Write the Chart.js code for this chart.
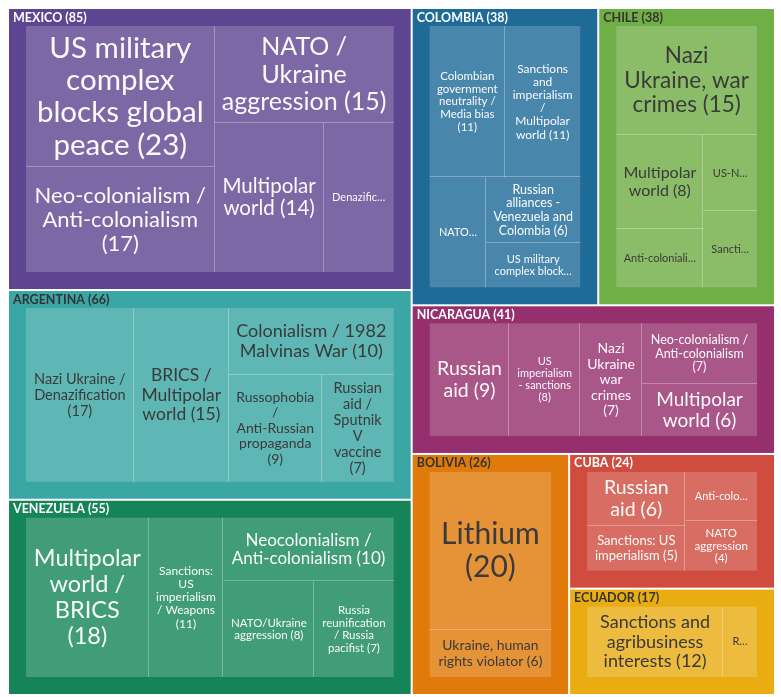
<!DOCTYPE html>
<html>
<head>
<meta charset="utf-8">
<script src="https://cdn.jsdelivr.net/npm/chart.js@4.4.0/dist/chart.umd.min.js"></script>
<style>
  html, body { margin: 0; padding: 0; background: #fff; }
  #wrap { width: 781px; height: 697px; }
</style>
</head>
<body>
<div id="wrap"><canvas id="chart"></canvas></div>
<script>
// countries (header counts) in layout order
const countries = ['MEXICO', 'ARGENTINA', 'VENEZUELA', 'COLOMBIA', 'CHILE', 'NICARAGUA', 'BOLIVIA', 'CUBA', 'ECUADOR'];
const countryCounts = [85, 66, 55, 38, 38, 41, 26, 24, 17];

// topics per country and their sizes
const mexicoTopics = ['US military complex blocks global peace', 'Neo-colonialism / Anti-colonialism', 'NATO / Ukraine aggression', 'Multipolar world', 'Denazification'];
const mexicoValues = [23, 17, 15, 14, 9];
const argentinaTopics = ['Nazi Ukraine / Denazification', 'BRICS / Multipolar world', 'Colonialism / 1982 Malvinas War', 'Russophobia / Anti-Russian propaganda', 'Russian aid / Sputnik V vaccine'];
const argentinaValues = [17, 15, 10, 9, 7];
const venezuelaTopics = ['Multipolar world / BRICS', 'Sanctions: US imperialism / Weapons', 'Neocolonialism / Anti-colonialism', 'NATO/Ukraine aggression', 'Russia reunification / Russia pacifist'];
const venezuelaValues = [18, 11, 10, 8, 7];
const colombiaTopics = ['Colombian government neutrality / Media bias', 'Sanctions and imperialism / Multipolar world', 'NATO aggression', 'Russian alliances - Venezuela and Colombia', 'US military complex blocks global peace'];
const colombiaValues = [11, 11, 6, 6, 4];
const chileTopics = ['Nazi Ukraine, war crimes', 'Multipolar world', 'Anti-colonialism', 'US-NATO aggression', 'Sanctions'];
const chileValues = [15, 8, 5, 4, 4];
const nicaraguaTopics = ['Russian aid', 'US imperialism - sanctions', 'Nazi Ukraine war crimes', 'Neo-colonialism / Anti-colonialism', 'Multipolar world'];
const nicaraguaValues = [9, 8, 7, 7, 6];
const boliviaTopics = ['Lithium', 'Ukraine, human rights violator'];
const boliviaValues = [20, 6];
const cubaTopics = ['Russian aid', 'Sanctions: US imperialism', 'Anti-colonialism', 'NATO aggression'];
const cubaValues = [6, 5, 4, 4];
const ecuadorTopics = ['Sanctions and agribusiness interests', 'Russian aid'];
const ecuadorValues = [12, 3];

const topics = [mexicoTopics, argentinaTopics, venezuelaTopics, colombiaTopics, chileTopics, nicaraguaTopics, boliviaTopics, cubaTopics, ecuadorTopics];
const values = [mexicoValues, argentinaValues, venezuelaValues, colombiaValues, chileValues, nicaraguaValues, boliviaValues, cubaValues, ecuadorValues];

const countryColors = ['#5e4591', '#3ba7a4', '#158559', '#1f6b98', '#70ae46', '#952f6e', '#e07b0b', '#cf4c3f', '#e9ac11'];
const darkText = [false, true, false, false, true, false, true, false, true];

const PAD = 18;
const FONT = 'Lato, "Noto Sans", sans-serif';
const MAX_SIZE = 30, MIN_SIZE = 11, LINE_H = 1.1;

// binary treemap split (same idea as d3.treemapBinary)
function binaryLayout(vals, x0, y0, x1, y1, aspect) {
  const n = vals.length, sums = [0];
  for (let i = 0; i < n; i++) sums.push(sums[i] + vals[i]);
  const out = new Array(n);
  function part(i, j, value, x0, y0, x1, y1) {
    if (i >= j - 1) { out[i] = { x0, y0, x1, y1 }; return; }
    const offset = sums[i], target = value / 2 + offset;
    let k = i + 1, hi = j - 1;
    while (k < hi) {
      const mid = (k + hi) >>> 1;
      if (sums[mid] < target) k = mid + 1; else hi = mid;
    }
    if (target - sums[k - 1] < sums[k] - target && i + 1 < k) --k;
    const left = sums[k] - offset, right = value - left;
    if ((x1 - x0) * aspect > (y1 - y0)) {
      const xk = (x0 * right + x1 * left) / value;
      part(i, k, left, x0, y0, xk, y1);
      part(k, j, right, xk, y0, x1, y1);
    } else {
      const yk = (y0 * right + y1 * left) / value;
      part(i, k, left, x0, y0, x1, yk);
      part(k, j, right, x0, yk, x1, y1);
    }
  }
  part(0, n, sums[n], x0, y0, x1, y1);
  return out;
}

function wrapWords(ctx, words, maxW) {
  const lines = [];
  let cur = '';
  for (const w of words) {
    if (ctx.measureText(w).width > maxW) return null;
    const t = cur ? cur + ' ' + w : w;
    if (ctx.measureText(t).width <= maxW) cur = t;
    else { lines.push(cur); cur = w; }
  }
  if (cur) lines.push(cur);
  return lines;
}

function trimToFit(ctx, s, maxW) {
  while (s.length > 1 && ctx.measureText(s + '…').width > maxW) s = s.slice(0, -1);
  return s.trimEnd() + '…';
}

// largest font that fits the cell, otherwise a truncated label at the min size
function fitLabel(ctx, text, w, h) {
  const words = text.split(' ');
  for (let size = MAX_SIZE; size >= MIN_SIZE; size -= 0.5) {
    ctx.font = `${size}px ${FONT}`;
    const lines = wrapWords(ctx, words, w);
    if (lines && lines.length * size * LINE_H <= h) return { size, lines };
  }
  const size = MIN_SIZE;
  ctx.font = `${size}px ${FONT}`;
  const maxLines = Math.max(1, Math.floor(h / (size * LINE_H)));
  const lines = [];
  let cur = '';
  for (const word of words) {
    if (ctx.measureText(word).width > w) {
      if (cur) lines.push(cur);
      if (lines.length) lines[lines.length - 1] = trimToFit(ctx, lines[lines.length - 1], w);
      else lines.push(trimToFit(ctx, word, w));
      return { size, lines: lines.slice(0, maxLines) };
    }
    const t = cur ? cur + ' ' + word : word;
    if (ctx.measureText(t).width <= w) cur = t;
    else { lines.push(cur); cur = word; }
  }
  if (cur) lines.push(cur);
  if (lines.length > maxLines) {
    const kept = lines.slice(0, maxLines);
    kept[maxLines - 1] = trimToFit(ctx, kept[maxLines - 1] + ' ' + lines[maxLines], w);
    return { size, lines: kept };
  }
  return { size, lines };
}

const treemapPlugin = {
  id: 'treemap',
  afterDatasetsDraw(chart) {
    const { ctx, chartArea, scales: { x, y } } = chart;
    const W = chartArea.width, H = chartArea.height, aspect = W / H;
    const totals = values.map(v => v.reduce((a, b) => a + b, 0));
    const boxes = binaryLayout(totals, 0, 0, 1, 1, aspect);
    const padX = PAD / W, padY = PAD / H;

    ctx.save();
    boxes.forEach((b, ci) => {
      const px0 = x.getPixelForValue(b.x0), px1 = x.getPixelForValue(b.x1);
      const py0 = y.getPixelForValue(b.y0), py1 = y.getPixelForValue(b.y1);
      ctx.fillStyle = countryColors[ci];
      ctx.fillRect(px0 + 1, py0 + 1, px1 - px0 - 2, py1 - py0 - 2);

      ctx.fillStyle = darkText[ci] ? '#333333' : '#ffffff';
      ctx.font = `bold 12.5px ${FONT}`;
      ctx.textAlign = 'left';
      ctx.textBaseline = 'middle';
      ctx.fillText(`${countries[ci]} (${countryCounts[ci]})`, px0 + 5, py0 + 9.5);

      // split decided on the country box, then drawn inside the padded box
      const leaves = binaryLayout(values[ci], b.x0, b.y0, b.x1, b.y1, aspect);
      const ix0 = b.x0 + padX, ix1 = b.x1 - padX, iy0 = b.y0 + padY, iy1 = b.y1 - padY;
      const sx = (ix1 - ix0) / (b.x1 - b.x0), sy = (iy1 - iy0) / (b.y1 - b.y0);
      const edgeX = x.getPixelForValue(ix1), edgeY = y.getPixelForValue(iy1);

      leaves.forEach((l, li) => {
        const lx0 = x.getPixelForValue(ix0 + (l.x0 - b.x0) * sx);
        const lx1 = x.getPixelForValue(ix0 + (l.x1 - b.x0) * sx);
        const ly0 = y.getPixelForValue(iy0 + (l.y0 - b.y0) * sy);
        const ly1 = y.getPixelForValue(iy0 + (l.y1 - b.y0) * sy);
        ctx.fillStyle = 'rgba(255,255,255,0.19)';
        ctx.fillRect(lx0, ly0, lx1 - lx0, ly1 - ly0);

        ctx.strokeStyle = 'rgba(255,255,255,0.3)';
        ctx.lineWidth = 1;
        ctx.beginPath();
        if (lx1 < edgeX - 0.5) { ctx.moveTo(Math.round(lx1) - 0.5, ly0); ctx.lineTo(Math.round(lx1) - 0.5, ly1); }
        if (ly1 < edgeY - 0.5) { ctx.moveTo(lx0, Math.round(ly1) - 0.5); ctx.lineTo(lx1, Math.round(ly1) - 0.5); }
        ctx.stroke();

        const text = `${topics[ci][li]} (${values[ci][li]})`;
        const cw = lx1 - lx0 - 14, ch = ly1 - ly0 - 10;
        const fit = fitLabel(ctx, text, cw, ch);
        ctx.font = `${fit.size}px ${FONT}`;
        ctx.fillStyle = darkText[ci] ? '#3a3a3a' : 'rgba(255,255,255,0.96)';
        ctx.textAlign = 'center';
        ctx.textBaseline = 'middle';
        const lh = fit.size * LINE_H;
        const cx = (lx0 + lx1) / 2, cy = (ly0 + ly1) / 2;
        const top = cy - (fit.lines.length - 1) * lh / 2;
        fit.lines.forEach((line, i) => ctx.fillText(line, cx, top + i * lh));
      });
    });
    ctx.restore();
  }
};

new Chart(document.getElementById('chart'), {
  type: 'scatter',
  data: { datasets: [{ data: [] }] },
  options: {
    responsive: true,
    maintainAspectRatio: false,
    animation: false,
    layout: { padding: { left: 8, top: 8, right: 6, bottom: 2 } },
    plugins: { legend: { display: false }, tooltip: { enabled: false } },
    scales: {
      x: { type: 'linear', min: 0, max: 1, display: false },
      y: { type: 'linear', min: 0, max: 1, reverse: true, display: false }
    }
  },
  plugins: [treemapPlugin]
});
</script>
</body>
</html>
